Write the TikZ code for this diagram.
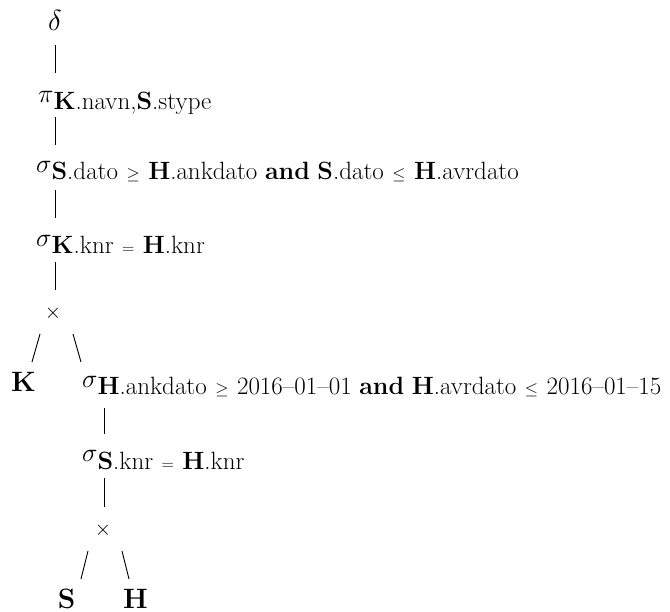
\RequirePackage{fix-cm}
\documentclass[tikz,border=0pt]{standalone}
\newcommand{\subt}[1]{\raisebox{-7pt}{\fontsize{25}{25}\selectfont #1}}
\newcommand{\rel}[1]{\hspace{8.5pt}{\fontsize{17}{17}\selectfont$#1$}\hspace{8.5pt}}
\newcommand{\bx}[1]{\textbf{#1}}
\begin{document}
\begin{tikzpicture}[x=1pt,y=1pt,
  lab/.style={inner sep=0pt, anchor=base west, font=\fontsize{26}{26}\selectfont},
  rel/.style={inner sep=0pt, anchor=base, font=\fontsize{28}{28}\selectfont\bfseries},
  opx/.style={inner sep=0pt, anchor=center, font=\fontsize{21}{21}\selectfont},
  edge/.style={line width=0.9pt}]
\useasboundingbox (0,0) rectangle (670,-612);
% nodes
\node[inner sep=0pt, anchor=base, font=\fontsize{29}{29}\selectfont] (delta) at (55,-31) {$\delta$};
\node[lab] (pi) at (38,-103) {$\pi$\subt{\bx{K}.navn,\bx{S}.stype}};
\node[lab] (s1) at (36,-173) {$\sigma$\subt{\bx{S}.dato\rel{\geq}\bx{H}.ankdato \bx{and} \bx{S}.dato\rel{\leq}\bx{H}.avrdato}};
\node[lab] (s2) at (36,-247) {$\sigma$\subt{\bx{K}.knr\rel{=}\bx{H}.knr}};
\node[opx] (x1) at (53,-313) {$\times$};
\node[rel] (K) at (23.5,-392) {K};
\node[lab] (s3) at (82,-388) {$\sigma$\subt{\bx{H}.ankdato\rel{\geq}2016--01--01 \bx{and} \bx{H}.avrdato\rel{\leq}2016--01--15}};
\node[lab] (s4) at (82,-462) {$\sigma$\subt{\bx{S}.knr\rel{=}\bx{H}.knr}};
\node[opx] (x2) at (103,-530) {$\times$};
\node[rel] (S) at (66.5,-608) {S};
\node[rel] (H) at (135.5,-608) {H};
% connector ends
\coordinate (delta-b) at (55,-45);  \coordinate (pi-t) at (55,-73);
\coordinate (pi-b) at (55,-117);    \coordinate (s1-t) at (55,-145);
\coordinate (s1-b) at (55,-190);    \coordinate (s2-t) at (55,-218);
\coordinate (s2-b) at (55,-262);    \coordinate (x1-t) at (55,-290);
\coordinate (x1-l) at (40,-334);    \coordinate (K-t) at (32,-362);
\coordinate (x1-r) at (73,-334);    \coordinate (s3-t) at (81,-362);
\coordinate (s3-b) at (104,-408);   \coordinate (s4-t) at (104,-434);
\coordinate (s4-b) at (104,-478);   \coordinate (x2-t) at (104,-507);
\coordinate (x2-l) at (88,-551);    \coordinate (S-t) at (81,-579);
\coordinate (x2-r) at (122,-551);   \coordinate (H-t) at (129,-579);
% connectors
\draw[edge] (delta-b) -- (pi-t);
\draw[edge] (pi-b) -- (s1-t);
\draw[edge] (s1-b) -- (s2-t);
\draw[edge] (s2-b) -- (x1-t);
\draw[edge] (x1-l) -- (K-t);
\draw[edge] (x1-r) -- (s3-t);
\draw[edge] (s3-b) -- (s4-t);
\draw[edge] (s4-b) -- (x2-t);
\draw[edge] (x2-l) -- (S-t);
\draw[edge] (x2-r) -- (H-t);
\end{tikzpicture}
\end{document}
